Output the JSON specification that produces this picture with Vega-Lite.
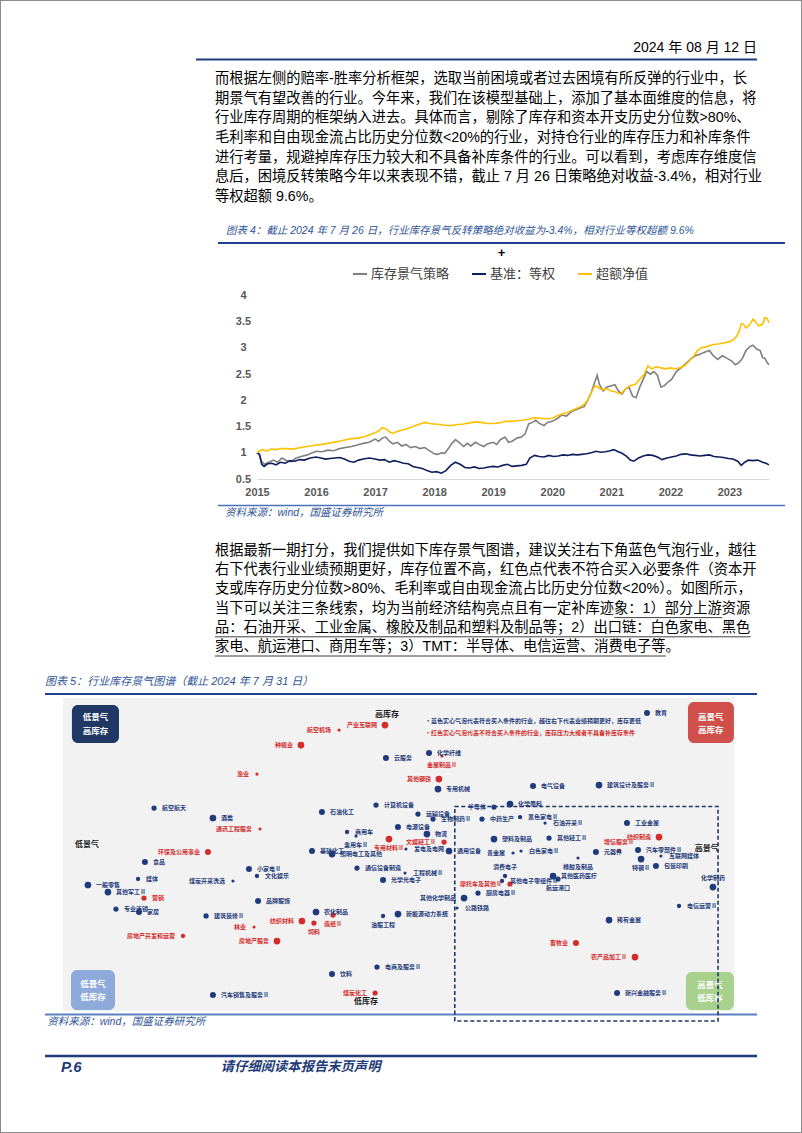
{
"$schema": "https://vega.github.io/schema/vega-lite/v6.json",
"width": 802, "height": 1133,
"autosize": {"type": "none"},
"padding": 0,
"background": "#ffffff",
"config": {"view": {"stroke": "#8c8c8c", "strokeWidth": 2}, "font": "Noto Sans CJK SC"},
"resolve": {
  "scale": {"x": "independent", "y": "independent", "color": "independent", "size": "independent", "fill": "independent"},
  "axis": {"x": "independent", "y": "independent"},
  "legend": {"color": "independent", "size": "independent", "fill": "independent"}
},
"layer": [
{
 "layer": [
  {"data": {"values": [{"t": "2024 年 08 月 12 日"}]},
   "mark": {"type": "text", "align": "right", "baseline": "middle", "fontSize": 14, "font": "Liberation Sans, Noto Sans CJK SC", "color": "#000000"},
   "encoding": {
    "x": {"datum": 1, "type": "quantitative", "scale": {"domain": [0, 1], "range": [196, 757], "nice": false, "zero": false}, "axis": null},
    "y": {"datum": 0, "type": "quantitative", "scale": {"domain": [0, 1], "range": [48, 59.5], "nice": false, "zero": false}, "axis": null},
    "text": {"field": "t"}}},
  {"data": {"values": [{}]},
   "mark": {"type": "rule", "color": "#1f3d7a", "strokeWidth": 2},
   "encoding": {"x": {"datum": 0, "type": "quantitative", "axis": null}, "x2": {"datum": 1}, "y": {"datum": 1, "type": "quantitative", "axis": null}}}
 ]
},
{
 "data": {"values": [
  {"i": 0, "t": "而根据左侧的赔率-胜率分析框架，选取当前困境或者过去困境有所反弹的行业中，长"},
  {"i": 1, "t": "期景气有望改善的行业。今年来，我们在该模型基础上，添加了基本面维度的信息，将"},
  {"i": 2, "t": "行业库存周期的框架纳入进去。具体而言，剔除了库存和资本开支历史分位数>80%、"},
  {"i": 3, "t": "毛利率和自由现金流占比历史分位数<20%的行业，对持仓行业的库存压力和补库条件"},
  {"i": 4, "t": "进行考量，规避掉库存压力较大和不具备补库条件的行业。可以看到，考虑库存维度信"},
  {"i": 5, "t": "息后，困境反转策略今年以来表现不错，截止 7 月 26 日策略绝对收益-3.4%，相对行业"},
  {"i": 6, "t": "等权超额 9.6%。"}
 ]},
 "mark": {"type": "text", "align": "left", "baseline": "middle", "fontSize": 14.26, "font": "Liberation Sans, Noto Sans CJK SC", "color": "#000000"},
 "encoding": {
  "x": {"datum": 0, "type": "quantitative", "scale": {"domain": [0, 38], "range": [215, 757], "nice": false, "zero": false}, "axis": null},
  "y": {"field": "i", "type": "quantitative", "scale": {"domain": [0, 6], "range": [79, 197], "nice": false, "zero": false}, "axis": null},
  "text": {"field": "t"}}
},
{
 "layer": [
  {"data": {"values": [{"t": "图表 4：截止 2024 年 7 月 26 日，行业库存景气反转策略绝对收益为-3.4%，相对行业等权超额 9.6%"}]},
   "mark": {"type": "text", "align": "left", "baseline": "middle", "fontSize": 10.5, "fontStyle": "italic", "font": "Liberation Sans, Noto Sans CJK SC", "color": "#2f5597"},
   "encoding": {
    "x": {"datum": 0.0141, "type": "quantitative", "scale": {"domain": [0, 1], "range": [218, 785], "nice": false, "zero": false}, "axis": null},
    "y": {"datum": -0.0457, "type": "quantitative", "scale": {"domain": [0, 1], "range": [243, 505.5], "nice": false, "zero": false}, "axis": null},
    "text": {"field": "t"}}},
  {"data": {"values": [{}]},
   "mark": {"type": "rule", "color": "#1f3f8f", "strokeWidth": 2},
   "encoding": {"x": {"datum": 0, "type": "quantitative", "axis": null}, "x2": {"datum": 1}, "y": {"datum": 0, "type": "quantitative", "axis": null}}},
  {"data": {"values": [{}]},
   "mark": {"type": "rule", "color": "#4a72b8", "strokeWidth": 1.5},
   "encoding": {"x": {"datum": 0, "type": "quantitative", "axis": null}, "x2": {"datum": 1}, "y": {"datum": 1, "type": "quantitative", "axis": null}}},
  {"data": {"values": [{"t": "+"}]},
   "mark": {"type": "text", "align": "center", "baseline": "middle", "fontSize": 13, "fontWeight": "bold", "font": "Liberation Sans", "color": "#000000"},
   "encoding": {"x": {"datum": 0.5, "type": "quantitative", "axis": null}, "y": {"datum": 0.038, "type": "quantitative", "axis": null}, "text": {"field": "t"}}},
  {"data": {"values": [{"t": "资料来源：wind，国盛证券研究所"}]},
   "mark": {"type": "text", "align": "left", "baseline": "middle", "fontSize": 10.5, "fontStyle": "italic", "font": "Liberation Sans, Noto Sans CJK SC", "color": "#2f5597"},
   "encoding": {"x": {"datum": 0.0123, "type": "quantitative", "axis": null}, "y": {"datum": 1.0267, "type": "quantitative", "axis": null}, "text": {"field": "t"}}}
 ]
},
{
 "data": {"values": [
  {"s":"库存景气策略","t":2015,"v":1.0},{"s":"库存景气策略","t":2015.04,"v":0.97},{"s":"库存景气策略","t":2015.08,"v":0.83},{"s":"库存景气策略","t":2015.13,"v":0.78},{"s":"库存景气策略","t":2015.2,"v":0.82},{"s":"库存景气策略","t":2015.28,"v":0.86},{"s":"库存景气策略","t":2015.35,"v":0.82},{"s":"库存景气策略","t":2015.42,"v":0.9},{"s":"库存景气策略","t":2015.5,"v":0.85},{"s":"库存景气策略","t":2015.58,"v":0.83},{"s":"库存景气策略","t":2015.66,"v":0.9},{"s":"库存景气策略","t":2015.75,"v":0.93},{"s":"库存景气策略","t":2015.85,"v":0.96},{"s":"库存景气策略","t":2016,"v":1.03},{"s":"库存景气策略","t":2016.1,"v":1.02},{"s":"库存景气策略","t":2016.2,"v":1.05},{"s":"库存景气策略","t":2016.3,"v":1.04},{"s":"库存景气策略","t":2016.4,"v":1.08},{"s":"库存景气策略","t":2016.5,"v":1.1},{"s":"库存景气策略","t":2016.6,"v":1.12},{"s":"库存景气策略","t":2016.7,"v":1.15},{"s":"库存景气策略","t":2016.8,"v":1.18},{"s":"库存景气策略","t":2016.9,"v":1.2},{"s":"库存景气策略","t":2017,"v":1.26},{"s":"库存景气策略","t":2017.06,"v":1.22},{"s":"库存景气策略","t":2017.12,"v":1.28},{"s":"库存景气策略","t":2017.18,"v":1.3},{"s":"库存景气策略","t":2017.24,"v":1.22},{"s":"库存景气策略","t":2017.3,"v":1.17},{"s":"库存景气策略","t":2017.38,"v":1.2},{"s":"库存景气策略","t":2017.45,"v":1.13},{"s":"库存景气策略","t":2017.52,"v":1.16},{"s":"库存景气策略","t":2017.6,"v":1.1},{"s":"库存景气策略","t":2017.68,"v":1.12},{"s":"库存景气策略","t":2017.76,"v":1.08},{"s":"库存景气策略","t":2017.84,"v":1.1},{"s":"库存景气策略","t":2017.92,"v":1.04},{"s":"库存景气策略","t":2018,"v":0.98},{"s":"库存景气策略","t":2018.06,"v":0.97},{"s":"库存景气策略","t":2018.12,"v":1.0},{"s":"库存景气策略","t":2018.18,"v":0.99},{"s":"库存景气策略","t":2018.24,"v":1.08},{"s":"库存景气策略","t":2018.3,"v":1.18},{"s":"库存景气策略","t":2018.36,"v":1.25},{"s":"库存景气策略","t":2018.42,"v":1.2},{"s":"库存景气策略","t":2018.5,"v":1.12},{"s":"库存景气策略","t":2018.56,"v":1.18},{"s":"库存景气策略","t":2018.62,"v":1.13},{"s":"库存景气策略","t":2018.7,"v":1.2},{"s":"库存景气策略","t":2018.76,"v":1.16},{"s":"库存景气策略","t":2018.84,"v":1.12},{"s":"库存景气策略","t":2018.9,"v":1.17},{"s":"库存景气策略","t":2019,"v":1.2},{"s":"库存景气策略","t":2019.06,"v":1.16},{"s":"库存景气策略","t":2019.12,"v":1.25},{"s":"库存景气策略","t":2019.2,"v":1.3},{"s":"库存景气策略","t":2019.26,"v":1.2},{"s":"库存景气策略","t":2019.32,"v":1.22},{"s":"库存景气策略","t":2019.4,"v":1.28},{"s":"库存景气策略","t":2019.48,"v":1.3},{"s":"库存景气策略","t":2019.54,"v":1.36},{"s":"库存景气策略","t":2019.6,"v":1.55},{"s":"库存景气策略","t":2019.66,"v":1.58},{"s":"库存景气策略","t":2019.72,"v":1.62},{"s":"库存景气策略","t":2019.78,"v":1.56},{"s":"库存景气策略","t":2019.86,"v":1.52},{"s":"库存景气策略","t":2019.92,"v":1.58},{"s":"库存景气策略","t":2020,"v":1.6},{"s":"库存景气策略","t":2020.08,"v":1.65},{"s":"库存景气策略","t":2020.16,"v":1.72},{"s":"库存景气策略","t":2020.24,"v":1.7},{"s":"库存景气策略","t":2020.32,"v":1.78},{"s":"库存景气策略","t":2020.4,"v":1.82},{"s":"库存景气策略","t":2020.48,"v":1.86},{"s":"库存景气策略","t":2020.54,"v":1.88},{"s":"库存景气策略","t":2020.6,"v":2.0},{"s":"库存景气策略","t":2020.66,"v":2.15},{"s":"库存景气策略","t":2020.72,"v":2.35},{"s":"库存景气策略","t":2020.76,"v":2.48},{"s":"库存景气策略","t":2020.8,"v":2.3},{"s":"库存景气策略","t":2020.86,"v":2.18},{"s":"库存景气策略","t":2020.92,"v":2.25},{"s":"库存景气策略","t":2021,"v":2.28},{"s":"库存景气策略","t":2021.06,"v":2.3},{"s":"库存景气策略","t":2021.12,"v":2.18},{"s":"库存景气策略","t":2021.18,"v":2.12},{"s":"库存景气策略","t":2021.24,"v":2.22},{"s":"库存景气策略","t":2021.3,"v":2.25},{"s":"库存景气策略","t":2021.36,"v":2.08},{"s":"库存景气策略","t":2021.42,"v":2.05},{"s":"库存景气策略","t":2021.48,"v":2.25},{"s":"库存景气策略","t":2021.54,"v":2.4},{"s":"库存景气策略","t":2021.6,"v":2.55},{"s":"库存景气策略","t":2021.66,"v":2.5},{"s":"库存景气策略","t":2021.72,"v":2.55},{"s":"库存景气策略","t":2021.78,"v":2.48},{"s":"库存景气策略","t":2021.84,"v":2.25},{"s":"库存景气策略","t":2021.9,"v":2.28},{"s":"库存景气策略","t":2021.96,"v":2.35},{"s":"库存景气策略","t":2022.02,"v":2.4},{"s":"库存景气策略","t":2022.1,"v":2.55},{"s":"库存景气策略","t":2022.18,"v":2.62},{"s":"库存景气策略","t":2022.26,"v":2.7},{"s":"库存景气策略","t":2022.34,"v":2.78},{"s":"库存景气策略","t":2022.42,"v":2.85},{"s":"库存景气策略","t":2022.5,"v":2.88},{"s":"库存景气策略","t":2022.58,"v":2.92},{"s":"库存景气策略","t":2022.66,"v":2.95},{"s":"库存景气策略","t":2022.72,"v":2.86},{"s":"库存景气策略","t":2022.8,"v":2.78},{"s":"库存景气策略","t":2022.88,"v":2.85},{"s":"库存景气策略","t":2022.96,"v":2.8},{"s":"库存景气策略","t":2023.04,"v":2.75},{"s":"库存景气策略","t":2023.1,"v":2.68},{"s":"库存景气策略","t":2023.16,"v":2.72},{"s":"库存景气策略","t":2023.22,"v":2.8},{"s":"库存景气策略","t":2023.28,"v":2.95},{"s":"库存景气策略","t":2023.34,"v":3.02},{"s":"库存景气策略","t":2023.4,"v":3.05},{"s":"库存景气策略","t":2023.46,"v":2.98},{"s":"库存景气策略","t":2023.52,"v":2.95},{"s":"库存景气策略","t":2023.56,"v":2.82},{"s":"库存景气策略","t":2023.6,"v":2.8},{"s":"库存景气策略","t":2023.64,"v":2.72},{"s":"库存景气策略","t":2023.67,"v":2.68},
  {"s":"基准：等权","t":2015,"v":1.0},{"s":"基准：等权","t":2015.04,"v":0.97},{"s":"基准：等权","t":2015.08,"v":0.78},{"s":"基准：等权","t":2015.12,"v":0.74},{"s":"基准：等权","t":2015.18,"v":0.79},{"s":"基准：等权","t":2015.25,"v":0.8},{"s":"基准：等权","t":2015.32,"v":0.77},{"s":"基准：等权","t":2015.4,"v":0.82},{"s":"基准：等权","t":2015.48,"v":0.8},{"s":"基准：等权","t":2015.56,"v":0.85},{"s":"基准：等权","t":2015.64,"v":0.84},{"s":"基准：等权","t":2015.72,"v":0.87},{"s":"基准：等权","t":2015.8,"v":0.86},{"s":"基准：等权","t":2015.9,"v":0.9},{"s":"基准：等权","t":2016,"v":0.92},{"s":"基准：等权","t":2016.08,"v":0.9},{"s":"基准：等权","t":2016.16,"v":0.88},{"s":"基准：等权","t":2016.24,"v":0.89},{"s":"基准：等权","t":2016.32,"v":0.9},{"s":"基准：等权","t":2016.4,"v":0.91},{"s":"基准：等权","t":2016.48,"v":0.88},{"s":"基准：等权","t":2016.56,"v":0.84},{"s":"基准：等权","t":2016.64,"v":0.82},{"s":"基准：等权","t":2016.72,"v":0.86},{"s":"基准：等权","t":2016.8,"v":0.88},{"s":"基准：等权","t":2016.9,"v":0.9},{"s":"基准：等权","t":2017,"v":0.88},{"s":"基准：等权","t":2017.08,"v":0.86},{"s":"基准：等权","t":2017.16,"v":0.87},{"s":"基准：等权","t":2017.24,"v":0.82},{"s":"基准：等权","t":2017.32,"v":0.85},{"s":"基准：等权","t":2017.4,"v":0.83},{"s":"基准：等权","t":2017.48,"v":0.8},{"s":"基准：等权","t":2017.56,"v":0.79},{"s":"基准：等权","t":2017.64,"v":0.74},{"s":"基准：等权","t":2017.72,"v":0.72},{"s":"基准：等权","t":2017.8,"v":0.7},{"s":"基准：等权","t":2017.88,"v":0.66},{"s":"基准：等权","t":2017.96,"v":0.63},{"s":"基准：等权","t":2018.04,"v":0.64},{"s":"基准：等权","t":2018.12,"v":0.61},{"s":"基准：等权","t":2018.2,"v":0.66},{"s":"基准：等权","t":2018.28,"v":0.76},{"s":"基准：等权","t":2018.36,"v":0.82},{"s":"基准：等权","t":2018.44,"v":0.78},{"s":"基准：等权","t":2018.52,"v":0.72},{"s":"基准：等权","t":2018.6,"v":0.71},{"s":"基准：等权","t":2018.68,"v":0.73},{"s":"基准：等权","t":2018.76,"v":0.7},{"s":"基准：等权","t":2018.84,"v":0.71},{"s":"基准：等权","t":2018.92,"v":0.73},{"s":"基准：等权","t":2019,"v":0.74},{"s":"基准：等权","t":2019.08,"v":0.73},{"s":"基准：等权","t":2019.16,"v":0.76},{"s":"基准：等权","t":2019.24,"v":0.78},{"s":"基准：等权","t":2019.32,"v":0.74},{"s":"基准：等权","t":2019.4,"v":0.75},{"s":"基准：等权","t":2019.48,"v":0.76},{"s":"基准：等权","t":2019.56,"v":0.78},{"s":"基准：等权","t":2019.62,"v":0.9},{"s":"基准：等权","t":2019.7,"v":0.95},{"s":"基准：等权","t":2019.78,"v":0.93},{"s":"基准：等权","t":2019.86,"v":0.92},{"s":"基准：等权","t":2019.94,"v":0.95},{"s":"基准：等权","t":2020.02,"v":0.93},{"s":"基准：等权","t":2020.1,"v":0.94},{"s":"基准：等权","t":2020.18,"v":0.96},{"s":"基准：等权","t":2020.26,"v":0.95},{"s":"基准：等权","t":2020.34,"v":0.97},{"s":"基准：等权","t":2020.42,"v":0.96},{"s":"基准：等权","t":2020.5,"v":0.97},{"s":"基准：等权","t":2020.58,"v":0.98},{"s":"基准：等权","t":2020.66,"v":1.0},{"s":"基准：等权","t":2020.74,"v":1.03},{"s":"基准：等权","t":2020.82,"v":1.01},{"s":"基准：等权","t":2020.9,"v":1.02},{"s":"基准：等权","t":2020.98,"v":1.04},{"s":"基准：等权","t":2021.04,"v":1.06},{"s":"基准：等权","t":2021.1,"v":1.03},{"s":"基准：等权","t":2021.18,"v":0.99},{"s":"基准：等权","t":2021.26,"v":0.93},{"s":"基准：等权","t":2021.32,"v":0.86},{"s":"基准：等权","t":2021.38,"v":0.84},{"s":"基准：等权","t":2021.46,"v":0.9},{"s":"基准：等权","t":2021.54,"v":0.94},{"s":"基准：等权","t":2021.62,"v":0.96},{"s":"基准：等权","t":2021.7,"v":0.95},{"s":"基准：等权","t":2021.78,"v":0.92},{"s":"基准：等权","t":2021.86,"v":0.87},{"s":"基准：等权","t":2021.94,"v":0.9},{"s":"基准：等权","t":2022.02,"v":0.92},{"s":"基准：等权","t":2022.1,"v":0.94},{"s":"基准：等权","t":2022.18,"v":0.97},{"s":"基准：等权","t":2022.26,"v":0.98},{"s":"基准：等权","t":2022.34,"v":0.96},{"s":"基准：等权","t":2022.42,"v":0.95},{"s":"基准：等权","t":2022.5,"v":0.94},{"s":"基准：等权","t":2022.58,"v":0.95},{"s":"基准：等权","t":2022.66,"v":0.96},{"s":"基准：等权","t":2022.74,"v":0.93},{"s":"基准：等权","t":2022.82,"v":0.92},{"s":"基准：等权","t":2022.9,"v":0.91},{"s":"基准：等权","t":2022.98,"v":0.89},{"s":"基准：等权","t":2023.06,"v":0.88},{"s":"基准：等权","t":2023.14,"v":0.84},{"s":"基准：等权","t":2023.2,"v":0.76},{"s":"基准：等权","t":2023.26,"v":0.82},{"s":"基准：等权","t":2023.32,"v":0.86},{"s":"基准：等权","t":2023.4,"v":0.85},{"s":"基准：等权","t":2023.48,"v":0.86},{"s":"基准：等权","t":2023.56,"v":0.82},{"s":"基准：等权","t":2023.62,"v":0.8},{"s":"基准：等权","t":2023.67,"v":0.77},
  {"s":"超额净值","t":2015,"v":1.0},{"s":"超额净值","t":2015.04,"v":1.04},{"s":"超额净值","t":2015.1,"v":1.06},{"s":"超额净值","t":2015.16,"v":1.03},{"s":"超额净值","t":2015.24,"v":1.07},{"s":"超额净值","t":2015.32,"v":1.06},{"s":"超额净值","t":2015.4,"v":1.08},{"s":"超额净值","t":2015.5,"v":1.08},{"s":"超额净值","t":2015.6,"v":1.07},{"s":"超额净值","t":2015.7,"v":1.09},{"s":"超额净值","t":2015.8,"v":1.11},{"s":"超额净值","t":2015.9,"v":1.13},{"s":"超额净值","t":2016,"v":1.15},{"s":"超额净值","t":2016.1,"v":1.16},{"s":"超额净值","t":2016.2,"v":1.18},{"s":"超额净值","t":2016.3,"v":1.2},{"s":"超额净值","t":2016.4,"v":1.22},{"s":"超额净值","t":2016.5,"v":1.25},{"s":"超额净值","t":2016.6,"v":1.27},{"s":"超额净值","t":2016.7,"v":1.28},{"s":"超额净值","t":2016.8,"v":1.3},{"s":"超额净值","t":2016.9,"v":1.34},{"s":"超额净值","t":2017,"v":1.38},{"s":"超额净值","t":2017.06,"v":1.42},{"s":"超额净值","t":2017.12,"v":1.48},{"s":"超额净值","t":2017.18,"v":1.46},{"s":"超额净值","t":2017.24,"v":1.4},{"s":"超额净值","t":2017.3,"v":1.37},{"s":"超额净值","t":2017.36,"v":1.4},{"s":"超额净值","t":2017.44,"v":1.43},{"s":"超额净值","t":2017.52,"v":1.45},{"s":"超额净值","t":2017.6,"v":1.48},{"s":"超额净值","t":2017.68,"v":1.52},{"s":"超额净值","t":2017.76,"v":1.55},{"s":"超额净值","t":2017.84,"v":1.58},{"s":"超额净值","t":2017.92,"v":1.56},{"s":"超额净值","t":2018,"v":1.55},{"s":"超额净值","t":2018.1,"v":1.54},{"s":"超额净值","t":2018.2,"v":1.52},{"s":"超额净值","t":2018.3,"v":1.52},{"s":"超额净值","t":2018.4,"v":1.54},{"s":"超额净值","t":2018.5,"v":1.55},{"s":"超额净值","t":2018.6,"v":1.57},{"s":"超额净值","t":2018.7,"v":1.59},{"s":"超额净值","t":2018.8,"v":1.58},{"s":"超额净值","t":2018.9,"v":1.56},{"s":"超额净值","t":2019,"v":1.56},{"s":"超额净值","t":2019.1,"v":1.57},{"s":"超额净值","t":2019.2,"v":1.6},{"s":"超额净值","t":2019.3,"v":1.6},{"s":"超额净值","t":2019.4,"v":1.61},{"s":"超额净值","t":2019.5,"v":1.62},{"s":"超额净值","t":2019.6,"v":1.64},{"s":"超额净值","t":2019.7,"v":1.67},{"s":"超额净值","t":2019.8,"v":1.66},{"s":"超额净值","t":2019.9,"v":1.65},{"s":"超额净值","t":2020,"v":1.66},{"s":"超额净值","t":2020.08,"v":1.7},{"s":"超额净值","t":2020.16,"v":1.74},{"s":"超额净值","t":2020.24,"v":1.76},{"s":"超额净值","t":2020.32,"v":1.8},{"s":"超额净值","t":2020.4,"v":1.84},{"s":"超额净值","t":2020.48,"v":1.88},{"s":"超额净值","t":2020.54,"v":1.92},{"s":"超额净值","t":2020.6,"v":2.0},{"s":"超额净值","t":2020.66,"v":2.14},{"s":"超额净值","t":2020.72,"v":2.28},{"s":"超额净值","t":2020.78,"v":2.25},{"s":"超额净值","t":2020.84,"v":2.2},{"s":"超额净值","t":2020.92,"v":2.22},{"s":"超额净值","t":2021,"v":2.18},{"s":"超额净值","t":2021.08,"v":2.16},{"s":"超额净值","t":2021.16,"v":2.12},{"s":"超额净值","t":2021.24,"v":2.22},{"s":"超额净值","t":2021.32,"v":2.28},{"s":"超额净值","t":2021.4,"v":2.3},{"s":"超额净值","t":2021.48,"v":2.4},{"s":"超额净值","t":2021.56,"v":2.5},{"s":"超额净值","t":2021.62,"v":2.66},{"s":"超额净值","t":2021.68,"v":2.6},{"s":"超额净值","t":2021.76,"v":2.64},{"s":"超额净值","t":2021.84,"v":2.62},{"s":"超额净值","t":2021.92,"v":2.6},{"s":"超额净值","t":2022,"v":2.62},{"s":"超额净值","t":2022.08,"v":2.6},{"s":"超额净值","t":2022.16,"v":2.62},{"s":"超额净值","t":2022.24,"v":2.66},{"s":"超额净值","t":2022.32,"v":2.75},{"s":"超额净值","t":2022.4,"v":2.85},{"s":"超额净值","t":2022.46,"v":2.95},{"s":"超额净值","t":2022.52,"v":3.0},{"s":"超额净值","t":2022.6,"v":3.02},{"s":"超额净值","t":2022.68,"v":3.05},{"s":"超额净值","t":2022.76,"v":3.07},{"s":"超额净值","t":2022.84,"v":3.08},{"s":"超额净值","t":2022.92,"v":3.1},{"s":"超额净值","t":2023,"v":3.12},{"s":"超额净值","t":2023.06,"v":3.15},{"s":"超额净值","t":2023.12,"v":3.22},{"s":"超额净值","t":2023.16,"v":3.3},{"s":"超额净值","t":2023.2,"v":3.46},{"s":"超额净值","t":2023.24,"v":3.45},{"s":"超额净值","t":2023.28,"v":3.38},{"s":"超额净值","t":2023.34,"v":3.44},{"s":"超额净值","t":2023.4,"v":3.55},{"s":"超额净值","t":2023.44,"v":3.5},{"s":"超额净值","t":2023.5,"v":3.42},{"s":"超额净值","t":2023.56,"v":3.45},{"s":"超额净值","t":2023.6,"v":3.58},{"s":"超额净值","t":2023.64,"v":3.56},{"s":"超额净值","t":2023.67,"v":3.48}
 ]},
 "mark": {"type": "line", "strokeWidth": 1.6},
 "encoding": {
  "x": {"field": "t", "type": "quantitative",
   "scale": {"domain": [2015, 2023.67], "range": [257, 769], "nice": false, "zero": false},
   "axis": {"orient": "bottom", "offset": -654, "values": [2015, 2016, 2017, 2018, 2019, 2020, 2021, 2022, 2023], "format": "d", "title": null, "grid": false, "ticks": false, "domainColor": "#d9d9d9", "domainWidth": 1, "labelFont": "Liberation Sans", "labelFontSize": 11, "labelFontWeight": "bold", "labelColor": "#595959", "labelPadding": 7, "labelFlush": false, "labelOverlap": false}},
  "y": {"field": "v", "type": "quantitative",
   "scale": {"domain": [0.5, 4], "range": [479, 295.5], "nice": false, "zero": false},
   "axis": {"orient": "left", "offset": -257, "values": [0.5, 1, 1.5, 2, 2.5, 3, 3.5, 4], "format": "~g", "title": null, "grid": false, "ticks": false, "domain": false, "labelFont": "Liberation Sans", "labelFontSize": 11, "labelFontWeight": "bold", "labelColor": "#595959", "labelPadding": 14, "labelAlign": "center", "labelBaseline": "middle", "labelOverlap": false}},
  "color": {"field": "s", "type": "nominal",
   "scale": {"domain": ["库存景气策略", "基准：等权", "超额净值"], "range": ["#7f7f7f", "#0d1f5c", "#ffc000"]},
   "legend": {"orient": "none", "legendX": 352, "legendY": 266, "direction": "horizontal", "title": null, "symbolType": "stroke", "symbolStrokeWidth": 2, "symbolSize": 196, "labelFont": "Noto Sans CJK SC", "labelFontSize": 13, "labelColor": "#404040", "columnPadding": 18, "labelOffset": 3}}
 }
},
{
 "layer": [
  {"data": {"values": [
    {"i": 0, "t": "根据最新一期打分，我们提供如下库存景气图谱，建议关注右下角蓝色气泡行业，越往"},
    {"i": 1, "t": "右下代表行业业绩预期更好，库存位置不高，红色点代表不符合买入必要条件（资本开"},
    {"i": 2, "t": "支或库存历史分位数>80%、毛利率或自由现金流占比历史分位数<20%）。如图所示，"},
    {"i": 3, "t": "当下可以关注三条线索，均为当前经济结构亮点且有一定补库迹象：1）部分上游资源"},
    {"i": 4, "t": "品：石油开采、工业金属、橡胶及制品和塑料及制品等；2）出口链：白色家电、黑色"},
    {"i": 5, "t": "家电、航运港口、商用车等；3）TMT：半导体、电信运营、消费电子等。"}
   ]},
   "mark": {"type": "text", "align": "left", "baseline": "middle", "fontSize": 14.26, "font": "Liberation Sans, Noto Sans CJK SC", "color": "#000000"},
   "encoding": {
    "x": {"datum": 0, "type": "quantitative", "scale": {"domain": [0, 38], "range": [215, 757], "nice": false, "zero": false}, "axis": null},
    "y": {"field": "i", "type": "quantitative", "scale": {"domain": [0, 5], "range": [551, 647], "nice": false, "zero": false}, "axis": null},
    "text": {"field": "t"}}},
  {"data": {"values": [{"i": 3, "a": 28, "b": 35.56}, {"i": 4, "a": 0, "b": 37.56}, {"i": 5, "a": 0, "b": 31.61}]},
   "mark": {"type": "rule", "color": "#404040", "strokeWidth": 1, "yOffset": 9},
   "encoding": {"x": {"field": "a", "type": "quantitative", "axis": null}, "x2": {"field": "b"}, "y": {"field": "i", "type": "quantitative", "axis": null}}}
 ]
},
{
 "layer": [
  {"data": {"values": [{"t": "图表 5：行业库存景气图谱（截止 2024 年 7 月 31 日）"}]},
   "mark": {"type": "text", "align": "left", "baseline": "middle", "fontSize": 11, "fontStyle": "italic", "font": "Liberation Sans, Noto Sans CJK SC", "color": "#2f5597"},
   "encoding": {
    "x": {"datum": 0, "type": "quantitative", "scale": {"domain": [0, 1], "range": [45, 757], "nice": false, "zero": false}, "axis": null},
    "y": {"datum": -0.0374, "type": "quantitative", "scale": {"domain": [0, 1], "range": [694, 1014.5], "nice": false, "zero": false}, "axis": null},
    "text": {"field": "t"}}},
  {"data": {"values": [{}]},
   "mark": {"type": "rule", "color": "#1f3f8f", "strokeWidth": 2},
   "encoding": {"x": {"datum": 0, "type": "quantitative", "axis": null}, "x2": {"datum": 1}, "y": {"datum": 0, "type": "quantitative", "axis": null}}},
  {"data": {"values": [{}]},
   "mark": {"type": "rule", "color": "#5a7fc2", "strokeWidth": 2},
   "encoding": {"x": {"datum": 0, "type": "quantitative", "axis": null}, "x2": {"datum": 1}, "y": {"datum": 1, "type": "quantitative", "axis": null}}},
  {"data": {"values": [{"t": "资料来源：wind，国盛证券研究所"}]},
   "mark": {"type": "text", "align": "left", "baseline": "middle", "fontSize": 10.5, "fontStyle": "italic", "font": "Liberation Sans, Noto Sans CJK SC", "color": "#2f5597"},
   "encoding": {"x": {"datum": 0.003, "type": "quantitative", "axis": null}, "y": {"datum": 1.0234, "type": "quantitative", "axis": null}, "text": {"field": "t"}}}
 ]
},
{
 "layer": [
  {"data": {"values": [{}]},
   "mark": {"type": "rect", "fill": "#f2f2f2"},
   "encoding": {
    "x": {"datum": -2.142, "type": "quantitative", "scale": {"domain": [-2, 2], "range": [85.7, 725.9], "nice": false, "zero": false}, "axis": null},
    "x2": {"datum": 2.055},
    "y": {"datum": 2.376, "type": "quantitative", "scale": {"domain": [-2.2, 2.3], "range": [1006.9, 703.2], "nice": false, "zero": false}, "axis": null},
    "y2": {"datum": -2.261}}},
  {"data": {"values": [
    {"q": "TL", "x1": -2.086, "x2": -1.792, "y1": 2.273, "y2": 1.710},
    {"q": "TR", "x1": 1.763, "x2": 2.050, "y1": 2.317, "y2": 1.710},
    {"q": "BL", "x1": -2.092, "x2": -1.817, "y1": -1.653, "y2": -2.246},
    {"q": "BR", "x1": 1.750, "x2": 2.050, "y1": -1.683, "y2": -2.246}
   ]},
   "mark": {"type": "rect", "cornerRadius": 6},
   "encoding": {
    "x": {"field": "x1", "type": "quantitative", "axis": null}, "x2": {"field": "x2"},
    "y": {"field": "y1", "type": "quantitative", "axis": null}, "y2": {"field": "y2"},
    "fill": {"field": "q", "type": "nominal", "scale": {"domain": ["TL", "TR", "BL", "BR"], "range": ["#1f3864", "#d04f4a", "#8eaadb", "#a9d18e"]}, "legend": null}}},
  {"data": {"values": [
    {"t": "低景气", "x": -1.939, "y": 2.095}, {"t": "高库存", "x": -1.939, "y": 1.887},
    {"t": "高景气", "x": 1.906, "y": 2.095}, {"t": "高库存", "x": 1.906, "y": 1.902},
    {"t": "低景气", "x": -1.955, "y": -1.860}, {"t": "低库存", "x": -1.955, "y": -2.053},
    {"t": "高景气", "x": 1.900, "y": -1.875}, {"t": "低库存", "x": 1.900, "y": -2.068}
   ]},
   "mark": {"type": "text", "align": "center", "baseline": "middle", "fontSize": 8.5, "fontWeight": "bold", "color": "#ffffff"},
   "encoding": {"x": {"field": "x", "type": "quantitative", "axis": null}, "y": {"field": "y", "type": "quantitative", "axis": null}, "text": {"field": "t"}}},
  {"data": {"values": [
    {"t": "高库存", "x": -0.118, "y": 2.126}, {"t": "低库存", "x": -0.249, "y": -2.127},
    {"t": "低景气", "x": -1.992, "y": 0.199}, {"t": "高景气", "x": 1.881, "y": 0.139}
   ]},
   "mark": {"type": "text", "align": "center", "baseline": "middle", "fontSize": 8, "fontWeight": "bold", "color": "#1a1a1a"},
   "encoding": {"x": {"field": "x", "type": "quantitative", "axis": null}, "y": {"field": "y", "type": "quantitative", "axis": null}, "text": {"field": "t"}}},
  {"data": {"values": [{}]},
   "mark": {"type": "rect", "fill": "#ffffff", "fillOpacity": 0, "stroke": "#1f3864", "strokeWidth": 1.6, "strokeDash": [4, 2.5]},
   "encoding": {"x": {"datum": 0.306, "type": "quantitative", "axis": null}, "x2": {"datum": 1.951}, "y": {"datum": 0.769, "type": "quantitative", "axis": null}, "y2": {"datum": -2.409}}},
  {"data": {"name": "bubbles", "values": [
    {"n":"产业互联网","c":"r","x":-0.130,"y":1.976,"w":5,"p":"L"},
    {"n":"航空机场","c":"r","x":-0.417,"y":1.902,"w":1,"p":"L"},
    {"n":"种植业","c":"r","x":-0.655,"y":1.680,"w":5,"p":"L"},
    {"n":"云服务","c":"b","x":-0.124,"y":1.487,"w":4,"p":"R"},
    {"n":"渔业","c":"r","x":-0.930,"y":1.250,"w":1,"p":"L"},
    {"n":"化学纤维","c":"b","x":0.145,"y":1.561,"w":4,"p":"R"},
    {"n":"金属制品Ⅱ","c":"r","x":0.226,"y":1.517,"w":1,"p":"B"},
    {"n":"其他钢铁","c":"r","x":0.207,"y":1.176,"w":5,"p":"L"},
    {"n":"专用机械","c":"b","x":0.201,"y":1.028,"w":5,"p":"R"},
    {"n":"航空航天","c":"b","x":-1.573,"y":0.747,"w":3,"p":"R"},
    {"n":"计算机设备","c":"b","x":-0.186,"y":0.791,"w":3,"p":"R"},
    {"n":"酒类","c":"b","x":-1.205,"y":0.599,"w":5,"p":"R"},
    {"n":"石油化工","c":"b","x":-0.524,"y":0.687,"w":4,"p":"R"},
    {"n":"通讯工程服务","c":"r","x":-0.911,"y":0.436,"w":1,"p":"L"},
    {"n":"商用车","c":"b","x":-0.367,"y":0.391,"w":2,"p":"R"},
    {"n":"乘用车Ⅱ","c":"b","x":-0.311,"y":0.332,"w":1,"p":"B"},
    {"n":"专用材料Ⅱ","c":"r","x":-0.105,"y":0.287,"w":5,"p":"B"},
    {"n":"电源设备","c":"b","x":-0.049,"y":0.465,"w":4,"p":"R"},
    {"n":"运输设备","c":"b","x":0.076,"y":0.658,"w":3,"p":"R"},
    {"n":"生物制药Ⅱ","c":"b","x":0.170,"y":0.584,"w":3,"p":"R"},
    {"n":"物流","c":"b","x":0.132,"y":0.361,"w":5,"p":"R"},
    {"n":"文娱轻工Ⅱ","c":"r","x":0.239,"y":0.243,"w":3,"p":"L"},
    {"n":"发电及电网","c":"b","x":0.001,"y":0.139,"w":1,"p":"R"},
    {"n":"通用设备","c":"b","x":0.270,"y":0.110,"w":5,"p":"R"},
    {"n":"基础化工","c":"b","x":-0.586,"y":0.110,"w":4,"p":"R"},
    {"n":"照明电工及其他","c":"b","x":-0.461,"y":0.065,"w":5,"p":"R"},
    {"n":"通信设备制造","c":"b","x":-0.305,"y":-0.142,"w":3,"p":"R"},
    {"n":"工程机械Ⅱ","c":"b","x":-0.005,"y":-0.216,"w":1,"p":"R"},
    {"n":"光学光电子","c":"b","x":-0.142,"y":-0.320,"w":4,"p":"R"},
    {"n":"小家电Ⅱ","c":"b","x":-0.980,"y":-0.157,"w":4,"p":"R"},
    {"n":"文化娱乐","c":"b","x":-0.930,"y":-0.261,"w":2,"p":"R"},
    {"n":"煤炭开采洗选","c":"b","x":-1.080,"y":-0.335,"w":1,"p":"L"},
    {"n":"环保及公用事业","c":"r","x":-1.236,"y":0.095,"w":4,"p":"L"},
    {"n":"食品","c":"b","x":-1.630,"y":-0.053,"w":4,"p":"R"},
    {"n":"媒体","c":"b","x":-1.673,"y":-0.305,"w":2,"p":"R"},
    {"n":"一般零售","c":"b","x":-1.986,"y":-0.394,"w":5,"p":"R"},
    {"n":"其他军工Ⅱ","c":"b","x":-1.861,"y":-0.498,"w":5,"p":"R"},
    {"n":"营销","c":"r","x":-1.636,"y":-0.587,"w":3,"p":"R"},
    {"n":"专业连锁","c":"b","x":-1.811,"y":-0.750,"w":3,"p":"R"},
    {"n":"家居","c":"b","x":-1.667,"y":-0.794,"w":4,"p":"R"},
    {"n":"建筑装修Ⅱ","c":"b","x":-1.248,"y":-0.853,"w":3,"p":"R"},
    {"n":"房地产开发和运营","c":"r","x":-1.392,"y":-1.150,"w":2,"p":"L"},
    {"n":"品牌服饰","c":"b","x":-0.923,"y":-0.631,"w":4,"p":"R"},
    {"n":"林业","c":"r","x":-0.948,"y":-1.016,"w":1,"p":"L"},
    {"n":"纺织材料","c":"r","x":-0.649,"y":-0.927,"w":5,"p":"L"},
    {"n":"农化制品","c":"b","x":-0.561,"y":-0.794,"w":5,"p":"R"},
    {"n":"饲料","c":"r","x":-0.574,"y":-0.957,"w":3,"p":"B"},
    {"n":"造纸Ⅱ","c":"r","x":-0.455,"y":-0.839,"w":3,"p":"B"},
    {"n":"房地产服务","c":"r","x":-0.805,"y":-1.224,"w":5,"p":"L"},
    {"n":"电商及服务Ⅱ","c":"b","x":-0.180,"y":-1.609,"w":3,"p":"R"},
    {"n":"饮料","c":"b","x":-0.461,"y":-1.713,"w":4,"p":"R"},
    {"n":"汽车销售及服务Ⅱ","c":"b","x":-1.205,"y":-2.024,"w":4,"p":"R"},
    {"n":"煤炭化工","c":"r","x":-0.192,"y":-1.994,"w":3,"p":"L"},
    {"n":"油服工程","c":"b","x":-0.142,"y":-0.853,"w":2,"p":"B"},
    {"n":"新能源动力系统","c":"b","x":-0.049,"y":-0.824,"w":5,"p":"R"},
    {"n":"贵金属","c":"b","x":0.670,"y":0.080,"w":1,"p":"L"},
    {"n":"白色家电Ⅱ","c":"b","x":0.720,"y":0.110,"w":1,"p":"R"},
    {"n":"元器件","c":"b","x":1.188,"y":0.095,"w":4,"p":"R"},
    {"n":"增信服务Ⅱ","c":"r","x":1.332,"y":0.110,"w":2,"p":"T"},
    {"n":"汽车零部件Ⅱ","c":"b","x":1.451,"y":0.124,"w":4,"p":"R"},
    {"n":"特钢Ⅱ","c":"b","x":1.470,"y":-0.009,"w":5,"p":"B"},
    {"n":"互联网媒体","c":"b","x":1.594,"y":0.036,"w":1,"p":"R"},
    {"n":"包装印刷","c":"b","x":1.563,"y":-0.113,"w":4,"p":"R"},
    {"n":"橡胶及制品","c":"b","x":1.076,"y":0.006,"w":1,"p":"B"},
    {"n":"消费电子","c":"b","x":0.620,"y":-0.261,"w":2,"p":"T"},
    {"n":"其他电子零组件Ⅱ","c":"b","x":0.601,"y":-0.335,"w":2,"p":"R"},
    {"n":"摩托车及其他Ⅱ","c":"r","x":0.651,"y":-0.379,"w":3,"p":"L"},
    {"n":"其他医药医疗","c":"b","x":0.920,"y":-0.261,"w":5,"p":"R"},
    {"n":"航运港口","c":"b","x":0.951,"y":-0.305,"w":3,"p":"B"},
    {"n":"其他化学制品","c":"b","x":0.364,"y":-0.587,"w":5,"p":"L"},
    {"n":"厨房电器Ⅱ","c":"b","x":0.451,"y":-0.513,"w":3,"p":"R"},
    {"n":"公路铁路","c":"b","x":0.320,"y":-0.735,"w":1,"p":"R"},
    {"n":"化学制药","c":"b","x":1.919,"y":-0.424,"w":5,"p":"T"},
    {"n":"电信运营Ⅱ","c":"b","x":1.707,"y":-0.705,"w":2,"p":"R"},
    {"n":"稀有金属","c":"b","x":1.270,"y":-0.913,"w":5,"p":"R"},
    {"n":"畜牧业","c":"r","x":1.063,"y":-1.253,"w":4,"p":"L"},
    {"n":"农产品加工Ⅱ","c":"r","x":1.432,"y":-1.461,"w":5,"p":"L"},
    {"n":"新兴金融服务Ⅱ","c":"b","x":1.320,"y":-1.994,"w":4,"p":"R"},
    {"n":"电气设备","c":"b","x":0.795,"y":1.073,"w":4,"p":"R"},
    {"n":"建筑设计及服务Ⅱ","c":"b","x":1.207,"y":1.087,"w":5,"p":"R"},
    {"n":"半导体","c":"b","x":0.551,"y":0.761,"w":3,"p":"L"},
    {"n":"化学原料","c":"b","x":0.651,"y":0.806,"w":5,"p":"R"},
    {"n":"中药生产","c":"b","x":0.476,"y":0.584,"w":3,"p":"R"},
    {"n":"黑色家电Ⅱ","c":"b","x":0.714,"y":0.613,"w":2,"p":"R"},
    {"n":"石油开采Ⅱ","c":"b","x":0.870,"y":0.524,"w":1,"p":"R"},
    {"n":"工业金属","c":"b","x":1.382,"y":0.524,"w":4,"p":"R"},
    {"n":"塑料及制品","c":"b","x":0.551,"y":0.287,"w":5,"p":"R"},
    {"n":"其他轻工Ⅱ","c":"b","x":0.895,"y":0.302,"w":3,"p":"R"},
    {"n":"纺织制造","c":"r","x":1.582,"y":0.317,"w":5,"p":"L"},
    {"n":"教育","c":"b","x":1.507,"y":2.154,"w":4,"p":"R"}
   ]},
   "mark": {"type": "circle", "opacity": 1},
   "encoding": {
    "x": {"field": "x", "type": "quantitative",
     "axis": {"orient": "bottom", "offset": -274.6, "zindex": 1, "values": [-2, -1.5, -1, -0.5, 0, 0.5, 1, 1.5, 2], "format": ".1f", "title": null, "grid": false, "ticks": false, "domainColor": "#8497b0", "domainWidth": 1.2, "labelFontSize": 6, "labelColor": "#a6a6a6", "labelPadding": 3, "labelFlush": false, "labelOverlap": false}},
    "y": {"field": "y", "type": "quantitative",
     "axis": {"orient": "left", "offset": -405.8, "zindex": 1, "values": [-2.2, -1.7, -1.2, -0.7, -0.2, 0.3, 0.8, 1.3, 1.8], "format": ".1f", "title": null, "grid": false, "ticks": false, "domainColor": "#a3b1c6", "domainWidth": 3, "labelFontSize": 6, "labelColor": "#a6a6a6", "labelPadding": 3, "labelOverlap": false}},
    "color": {"field": "c", "type": "nominal", "scale": {"domain": ["b", "r"], "range": ["#1f3b7b", "#d42b2b"]}, "legend": null},
    "size": {"field": "w", "type": "ordinal", "scale": {"domain": [1, 2, 3, 4, 5], "range": [10, 45, 80, 115, 150]}, "legend": null}}},
  {"data": {"name": "bubbles"}, "transform": [{"filter": "datum.p === 'R'"}],
   "mark": {"type": "text", "align": "left", "baseline": "middle", "dx": 8, "fontSize": 6, "fontWeight": "bold"},
   "encoding": {"x": {"field": "x", "type": "quantitative", "axis": null}, "y": {"field": "y", "type": "quantitative", "axis": null}, "text": {"field": "n"}, "color": {"field": "c", "type": "nominal", "legend": null}}},
  {"data": {"name": "bubbles"}, "transform": [{"filter": "datum.p === 'L'"}],
   "mark": {"type": "text", "align": "right", "baseline": "middle", "dx": -8, "fontSize": 6, "fontWeight": "bold"},
   "encoding": {"x": {"field": "x", "type": "quantitative", "axis": null}, "y": {"field": "y", "type": "quantitative", "axis": null}, "text": {"field": "n"}, "color": {"field": "c", "type": "nominal", "legend": null}}},
  {"data": {"name": "bubbles"}, "transform": [{"filter": "datum.p === 'T'"}],
   "mark": {"type": "text", "align": "center", "baseline": "middle", "dy": -9, "fontSize": 6, "fontWeight": "bold"},
   "encoding": {"x": {"field": "x", "type": "quantitative", "axis": null}, "y": {"field": "y", "type": "quantitative", "axis": null}, "text": {"field": "n"}, "color": {"field": "c", "type": "nominal", "legend": null}}},
  {"data": {"name": "bubbles"}, "transform": [{"filter": "datum.p === 'B'"}],
   "mark": {"type": "text", "align": "center", "baseline": "middle", "dy": 9, "fontSize": 6, "fontWeight": "bold"},
   "encoding": {"x": {"field": "x", "type": "quantitative", "axis": null}, "y": {"field": "y", "type": "quantitative", "axis": null}, "text": {"field": "n"}, "color": {"field": "c", "type": "nominal", "legend": null}}},
  {"data": {"values": [
    {"t": "•蓝色实心气泡代表符合买入条件的行业，越往右下代表业绩预期更好，库存更低", "c": "b", "x": 0.12, "y": 2.036},
    {"t": "•红色实心气泡代表不符合买入条件的行业，库存压力大或者不具备补库存条件", "c": "r", "x": 0.12, "y": 1.858}
   ]},
   "mark": {"type": "text", "align": "left", "baseline": "middle", "fontSize": 6, "fontWeight": "bold"},
   "encoding": {"x": {"field": "x", "type": "quantitative", "axis": null}, "y": {"field": "y", "type": "quantitative", "axis": null}, "text": {"field": "t"}, "color": {"field": "c", "type": "nominal", "legend": null}}}
 ]
},
{
 "layer": [
  {"data": {"values": [{}]},
   "mark": {"type": "rule", "color": "#1f3c78", "strokeWidth": 2.5},
   "encoding": {
    "x": {"datum": 0, "type": "quantitative", "scale": {"domain": [0, 1], "range": [45, 757], "nice": false, "zero": false}, "axis": null},
    "x2": {"datum": 1},
    "y": {"datum": 0, "type": "quantitative", "scale": {"domain": [0, 1], "range": [1056, 1067], "nice": false, "zero": false}, "axis": null}}},
  {"data": {"values": [{"t": "P.6"}]},
   "mark": {"type": "text", "align": "left", "baseline": "middle", "fontSize": 15, "fontWeight": "bold", "fontStyle": "italic", "font": "Liberation Sans", "color": "#1f3c78"},
   "encoding": {"x": {"datum": 0.0225, "type": "quantitative", "axis": null}, "y": {"datum": 1, "type": "quantitative", "axis": null}, "text": {"field": "t"}}},
  {"data": {"values": [{"t": "请仔细阅读本报告末页声明"}]},
   "mark": {"type": "text", "align": "left", "baseline": "middle", "fontSize": 13.3, "fontWeight": "bold", "fontStyle": "italic", "color": "#1f3c78"},
   "encoding": {"x": {"datum": 0.247, "type": "quantitative", "axis": null}, "y": {"datum": 1, "type": "quantitative", "axis": null}, "text": {"field": "t"}}}
 ]
}
]
}
